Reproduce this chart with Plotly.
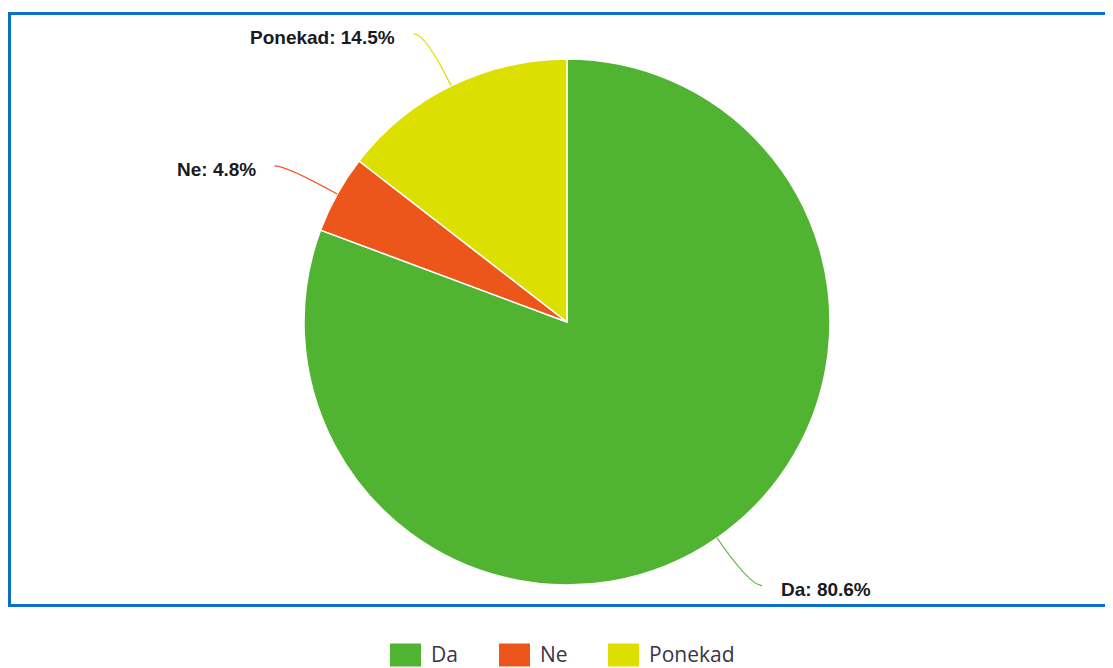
import math
import plotly.graph_objects as go

# ---- data ----
labels = ["Da", "Ne", "Ponekad"]
values = [80.6, 4.8, 14.5]
pct_text = ["80.6%", "4.8%", "14.5%"]
colors = ["#50B432", "#ED561B", "#DDDF00"]

# ---- layout constants (screen pixels) ----
OFF = 8  # page body margin
W, H = 1113 - OFF, 668 - OFF
CX, CY, R = 567, 322, 263
LEAD = 58
legend_x = [390, 499, 608]
legend_y = 655


def px(x):
    return (x - OFF) / W


def py(y):
    return 1 - (y - OFF) / H


fig = go.Figure(
    go.Pie(
        labels=labels,
        values=values,
        sort=False,
        direction="clockwise",
        rotation=0,
        marker=dict(colors=colors, line=dict(color="white", width=1.5)),
        textinfo="none",
        showlegend=False,
        domain=dict(x=[px(CX - R), px(CX + R)], y=[py(CY + R), py(CY - R)]),
    )
)

shapes = []
annotations = []

# chart border
shapes.append(dict(type="rect", xref="paper", yref="paper",
                   x0=px(9.5), x1=px(1135), y0=py(605.5), y1=py(13.5),
                   line=dict(color="#0A6FC6", width=3), layer="above"))

total = sum(values)
cum = 0.0
for lab, v, t, c in zip(labels, values, pct_text, colors):
    mid = (cum + v / 2) / total
    cum += v
    th = 2 * math.pi * mid
    dx, dy = math.sin(th), -math.cos(th)
    side = 1 if dx >= 0 else -1
    x0, y0 = CX + R * dx, CY + R * dy
    xc, yc = CX + (R + LEAD) * dx, CY + (R + LEAD) * dy
    x1, y1 = xc + side * 12, yc
    path = f"M {px(x0)},{py(y0)} Q {px(xc)},{py(yc)} {px(x1)},{py(y1)}"
    shapes.append(dict(type="path", xref="paper", yref="paper", path=path,
                       line=dict(color=c, width=1.2)))
    annotations.append(dict(
        x=px(x1 + side * 17), y=py(y1 + 3.5), xref="paper", yref="paper",
        xanchor="left" if side > 0 else "right", yanchor="middle",
        text=f"<b>{lab}: {t}</b>", showarrow=False,
        font=dict(family="Liberation Sans, Arial", size=19, color="#1a1a22")))

# manual legend
for lab, c, lx in zip(labels, colors, legend_x):
    shapes.append(dict(type="rect", xref="paper", yref="paper",
                       x0=px(lx), x1=px(lx + 31), y0=py(legend_y + 11.5), y1=py(legend_y - 11.5),
                       fillcolor=c, line=dict(width=0)))
    annotations.append(dict(
        x=px(lx + 40), y=py(legend_y - 1), xref="paper", yref="paper",
        xanchor="left", yanchor="middle", text=lab, showarrow=False,
        borderpad=0,
        font=dict(family="Open Sans, DejaVu Sans", size=21, color="#3a3448")))

fig.update_layout(
    width=W, height=H,
    margin=dict(l=0, r=0, t=0, b=0),
    paper_bgcolor="white", plot_bgcolor="white",
    shapes=shapes, annotations=annotations,
)

fig.write_html("out.html")
